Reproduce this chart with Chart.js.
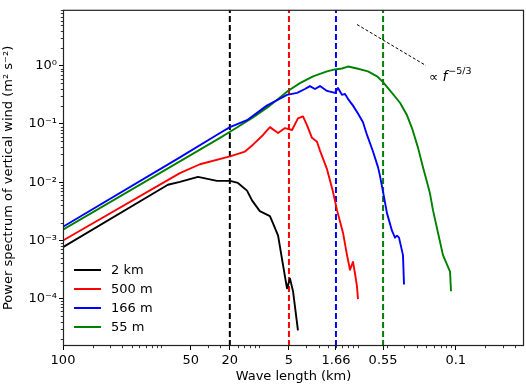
<!DOCTYPE html>
<html>
<head>
<meta charset="utf-8">
<script src="https://cdn.jsdelivr.net/npm/chart.js@4/dist/chart.umd.min.js"></script>
<style>
html,body{margin:0;padding:0;background:#fff;}
canvas{display:block;}
</style>
</head>
<body>
<canvas id="c" width="526" height="386"></canvas>
<script>
// ---- data (wavenumber index k on log axis, power spectrum values) ----
const seriesNames = ['2 km', '500 m', '166 m', '55 m'];
const seriesColors = ['#000000', '#ff0000', '#0000ff', '#008000'];

const kBlack = [1, 11.7, 15.5, 23.7, 37, 50.2, 60.5, 74.8, 84.1, 101, 128, 137, 155, 170, 191, 205, 220, 247];
const pBlack = [7.6e-4, 9.0e-3, 1.01e-2, 1.23e-2, 1.05e-2, 1.05e-2, 9.7e-3, 7.15e-3, 4.85e-3, 3.17e-3, 2.61e-3, 1.99e-3, 1.20e-3, 4.75e-4, 1.49e-4, 2.19e-4, 1.33e-4, 2.82e-5];

const kRed = [1, 15.5, 24.8, 50.2, 71.3, 86.1, 109, 128, 155, 182, 215, 247, 278, 305, 343, 386, 414, 488, 561, 617, 710, 780, 837, 898, 942, 986, 1009];
const pRed = [9.9e-4, 1.43e-2, 2.03e-2, 2.77e-2, 3.36e-2, 4.41e-2, 6.48e-2, 8.83e-2, 7.0e-2, 8.5e-2, 7.87e-2, 0.125, 0.135, 0.0955, 0.0577, 0.0494, 0.0349, 0.0167, 0.00687, 0.0033, 0.00135, 5.56e-4, 3.11e-4, 4.24e-4, 2.66e-4, 1.61e-4, 9.7e-5];

const kBlue = [1, 15.5, 39.7, 50.2, 74.8, 119, 191, 242, 291, 327, 368, 414, 488, 589, 631, 693, 744, 798, 898, 1009, 1135, 1247, 1435, 1614, 1690, 1815, 1991, 2239, 2404, 2518, 2641, 2899, 2969];
const pBlue = [1.71e-3, 0.0266, 0.070, 0.0883, 0.116, 0.207, 0.317, 0.342, 0.400, 0.449, 0.400, 0.449, 0.370, 0.342, 0.415, 0.317, 0.329, 0.271, 0.207, 0.152, 0.107, 0.0648, 0.0336, 0.0181, 0.0128, 0.00687, 0.00293, 0.00146, 0.00111, 0.0012, 0.00111, 5.56e-4, 1.74e-4];

const kGreen = [1, 15.5, 39.7, 53.8, 86.1, 128, 195, 259, 352, 488, 589, 693, 798, 986, 1276, 1577, 1815, 2239, 2703, 3186, 3580, 4121, 4634, 5089, 5461, 5857, 6587, 7406, 8737, 8940];
const pGreen = [1.52e-3, 0.0228, 0.0577, 0.0787, 0.130, 0.207, 0.370, 0.504, 0.661, 0.802, 0.867, 0.901, 0.973, 0.901, 0.802, 0.661, 0.524, 0.342, 0.232, 0.141, 0.085, 0.0392, 0.0181, 0.0101, 0.00636, 0.0033, 0.00135, 5.56e-4, 2.88e-4, 1.33e-4];

// vertical dashed reference lines (resolution cut-offs)
const cutoffK = [50, 200, 602, 1818];
// -5/3 reference segment
const slopeK = [986, 4977];
const slopeP = [5.14, 1.01];
const slopeLabelK = 5333;
const slopeLabelP = 0.636;

// tick labels
const xTickValues = [1, 20, 50, 200, 602, 1818, 10000];
const xTickLabels = ['100', '50', '20', '5', '1.66', '0.55', '0.1'];
const yTickValues = [1e-4, 1e-3, 1e-2, 1e-1, 1];
const yTickLabels = ['10\u207B\u2074', '10\u207B\u00B3', '10\u207B\u00B2', '10\u207B\u00B9', '10\u2070'];

const X_MIN = 1, X_MAX = 49500, Y_MIN = 1.52e-5, Y_MAX = 9.2;
const FONT = 'DejaVu Sans';

function pts(ks, ps) { return ks.map((k, i) => ({x: k, y: ps[i]})); }
function minorLog(min, max) {
  const out = [];
  for (let d = 1e-6; d <= 1e6; d *= 10) {
    for (let m = 1; m <= 9; m++) {
      const v = m * d;
      if (v >= min * 0.9999 && v <= max * 1.0001) out.push(+v.toPrecision(6));
    }
  }
  return out;
}

const seriesK = [kBlack, kRed, kBlue, kGreen];
const seriesP = [pBlack, pRed, pBlue, pGreen];

const datasets = [];
cutoffK.forEach((k, i) => {
  datasets.push({
    data: [{x: k, y: Y_MIN}, {x: k, y: Y_MAX}],
    borderColor: seriesColors[i], borderWidth: 2, borderDash: [6, 3],
    pointRadius: 0, fill: false, order: 2
  });
});
seriesNames.forEach((name, i) => {
  datasets.push({
    label: name, data: pts(seriesK[i], seriesP[i]),
    borderColor: seriesColors[i], borderWidth: 1.9,
    pointRadius: 0, fill: false, tension: 0, order: 1
  });
});
datasets.push({
  data: pts(slopeK, slopeP), borderColor: '#000', borderWidth: 1,
  borderDash: [3, 2], pointRadius: 0, fill: false, order: 0
});

const isMajor = c => c.tick && c.tick.major;

const framePlugin = {
  id: 'frame',
  afterDraw(chart) {
    const {ctx, chartArea: a, scales} = chart;
    ctx.save();
    // minor ticks (shorter than major)
    ctx.strokeStyle = '#000';
    ctx.lineWidth = 0.8;
    ctx.beginPath();
    scales.x.ticks.forEach(t => {
      if (t.major) return;
      const px = Math.round(scales.x.getPixelForValue(t.value)) + 0.5;
      ctx.moveTo(px, a.bottom); ctx.lineTo(px, a.bottom + 2.2);
    });
    scales.y.ticks.forEach(t => {
      if (t.major) return;
      const py = Math.round(scales.y.getPixelForValue(t.value)) + 0.5;
      ctx.moveTo(a.left, py); ctx.lineTo(a.left - 2.2, py);
    });
    ctx.stroke();
    // frame
    ctx.strokeStyle = '#222';
    ctx.lineWidth = 1.2;
    ctx.strokeRect(a.left + 0.5, a.top + 0.5, a.right - a.left - 1, a.bottom - a.top - 1);
    // legend
    ctx.font = '13px "' + FONT + '"';
    ctx.textBaseline = 'middle';
    ctx.textAlign = 'left';
    const lx = a.left + 11, ly = a.bottom - 76, step = 19;
    seriesNames.forEach((n, i) => {
      const y = ly + i * step;
      ctx.strokeStyle = seriesColors[i];
      ctx.lineWidth = 2;
      ctx.beginPath(); ctx.moveTo(lx, y); ctx.lineTo(lx + 27, y); ctx.stroke();
      ctx.fillStyle = '#000';
      ctx.fillText(n, lx + 37, y + 1);
    });
    // -5/3 label
    const tx = scales.x.getPixelForValue(slopeLabelK);
    const ty = scales.y.getPixelForValue(slopeLabelP);
    ctx.fillStyle = '#000';
    ctx.font = '13px "' + FONT + '"';
    ctx.fillText('\u221D', tx, ty);
    let w = ctx.measureText('\u221D ').width;
    ctx.font = 'italic 14px "' + FONT + '"';
    ctx.fillText('f', tx + w, ty);
    w += ctx.measureText('f').width + 1;
    ctx.font = '9.5px "' + FONT + '"';
    ctx.fillText('\u22125/3', tx + w, ty - 6);
    ctx.restore();
  }
};

new Chart(document.getElementById('c'), {
  type: 'line',
  data: {datasets},
  options: {
    responsive: false, animation: false, devicePixelRatio: 1,
    layout: {padding: {left: 0, right: 2, top: 2, bottom: 0}},
    plugins: {legend: {display: false}, tooltip: {enabled: false}},
    elements: {line: {borderCapStyle: 'butt', borderJoinStyle: 'round'}},
    scales: {
      x: {
        type: 'logarithmic', min: X_MIN, max: X_MAX,
        afterFit(s) { s.height = 40; },
        afterBuildTicks(s) {
          const vals = Array.from(new Set(minorLog(X_MIN, X_MAX).concat(xTickValues))).sort((a, b) => a - b);
          s.ticks = vals.map(v => ({value: v, major: xTickValues.includes(v)}));
        },
        ticks: {
          autoSkip: false, maxRotation: 0, minRotation: 0, padding: 3, color: '#000',
          font: {family: FONT, size: 13},
          callback(v) { const i = xTickValues.indexOf(v); return i >= 0 ? xTickLabels[i] : ''; }
        },
        grid: {drawOnChartArea: false, color: '#000', tickLength: 4,
               tickColor: c => (isMajor(c) ? '#000' : 'rgba(0,0,0,0)'), tickWidth: 1},
        border: {display: false},
        title: {display: true, text: 'Wave length (km)', color: '#000',
                font: {family: FONT, size: 13}, padding: {top: 0, bottom: 2}}
      },
      y: {
        type: 'logarithmic', min: Y_MIN, max: Y_MAX,
        afterFit(s) { s.width = 63; },
        afterBuildTicks(s) {
          const vals = Array.from(new Set(minorLog(Y_MIN, Y_MAX).concat(yTickValues))).sort((a, b) => a - b);
          s.ticks = vals.map(v => ({value: v, major: yTickValues.some(t => Math.abs(t - v) / t < 1e-6)}));
        },
        ticks: {
          autoSkip: false, padding: 2, color: '#000',
          font: {family: FONT, size: 13},
          callback(v) {
            const i = yTickValues.findIndex(t => Math.abs(t - v) / t < 1e-6);
            return i >= 0 ? yTickLabels[i] : '';
          }
        },
        grid: {drawOnChartArea: false, color: '#000', tickLength: 4,
               tickColor: c => (isMajor(c) ? '#000' : 'rgba(0,0,0,0)'), tickWidth: 1},
        border: {display: false},
        title: {display: true, text: 'Power spectrum of vertical wind (m\u00B2 s\u207B\u00B2)', color: '#000',
                font: {family: FONT, size: 13}, padding: {top: 1, bottom: 0}}
      }
    }
  },
  plugins: [framePlugin]
});
</script>
</body>
</html>
